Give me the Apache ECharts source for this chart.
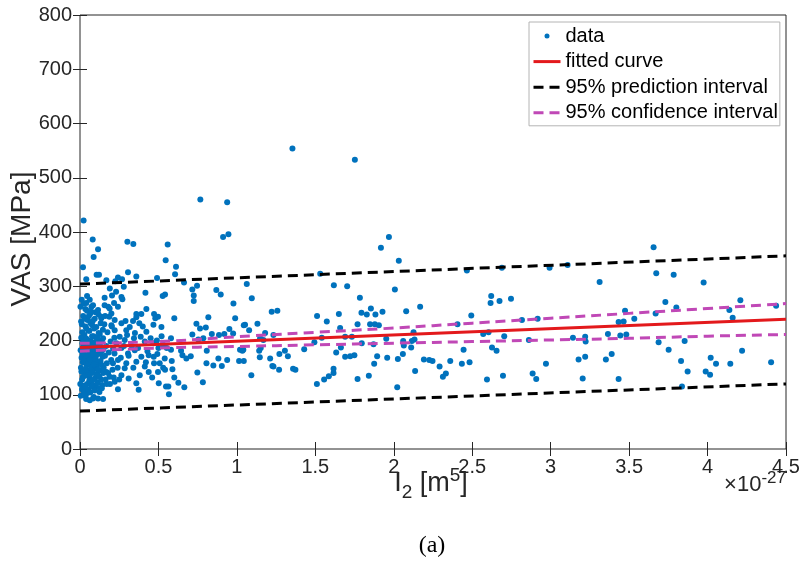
<!DOCTYPE html>
<html>
<head>
<meta charset="utf-8">
<script src="https://cdn.jsdelivr.net/npm/echarts@6/dist/echarts.min.js"></script>
<style>
  html, body { margin: 0; padding: 0; background: #fff; }
  #chart { width: 804px; height: 573px; }
</style>
</head>
<body>
<div id="chart"></div>
<script>
// scatter points [I2 (x1e-27), VAS]
var ptsCore = [
  [0.004,182],[0.006,150],[0.008,205],[0.01,168],[0.012,230],[0.014,128],[0.016,195],[0.018,160],[0.02,245],[0.022,112],
  [0.024,178],[0.026,142],[0.028,210],[0.03,188],[0.032,135],[0.034,258],[0.036,170],[0.038,100],[0.04,222],[0.042,155],
  [0.044,192],[0.046,120],[0.048,238],[0.05,165],[0.052,145],[0.054,200],[0.056,108],[0.058,176],[0.06,218],[0.062,132],
  [0.064,186],[0.066,250],[0.068,158],[0.07,125],[0.072,198],[0.074,172],[0.076,140],[0.078,228],[0.08,118],[0.082,190],
  [0.084,162],[0.086,208],[0.088,96],[0.09,180],[0.092,148],[0.094,240],[0.096,130],[0.098,195],[0.1,168],[0.102,115],
  [0.104,225],[0.106,152],[0.108,185],[0.11,138],[0.112,205],[0.114,122],[0.116,175],[0.118,248],[0.12,160],[0.122,192],
  [0.124,105],[0.126,212],[0.128,145],[0.13,178],[0.132,232],[0.134,128],[0.136,188],[0.138,155],[0.14,200],[0.142,118],
  [0.144,170],[0.146,220],[0.148,140],[0.15,185],
  [0.002,120],[0.003,262],[0.005,98],[0.007,235],[0.009,143],[0.011,275],[0.013,110],[0.015,215],[0.017,175],[0.019,133],
  [0.021,198],[0.023,268],[0.025,105],[0.027,162],[0.029,240],[0.031,117],[0.033,185],[0.035,226],[0.037,147],[0.039,92],
  [0.041,203],[0.043,172],[0.045,255],[0.047,136],[0.049,188],[0.051,110],[0.053,218],[0.055,158],[0.057,245],[0.059,126],
  [0.061,196],[0.063,165],[0.065,104],[0.067,232],[0.069,180],[0.071,150],[0.073,262],[0.075,115],[0.077,208],[0.079,142],
  [0.081,236],[0.083,174],[0.085,127],[0.087,193],[0.089,156],[0.091,222],[0.093,108],[0.095,184],[0.097,166],[0.099,252],
  [0.103,138],[0.107,200],[0.111,176],[0.115,146],[0.119,214],[0.123,134],[0.127,196],[0.131,162],[0.135,244],[0.139,112],
  [0.143,182],[0.147,204],[0.151,150],[0.155,230],[0.159,172],[0.163,128],[0.167,190],[0.171,158],[0.175,215],[0.179,140],
  [0.183,178],[0.187,244],[0.191,120],[0.195,198],[0.199,164],[0.203,226],[0.207,146],[0.211,185],[0.215,132],[0.219,205]
];

var ptsInner = [
  [0.423,258],[0.391,249],[0.359,249],[0.359,243],[0.338,236],[0.472,249],[0.48,241],[0.497,244],[0.468,229],[0.317,225],
  [0.295,219],[0.378,232],[0.423,216],[0.519,225],[0.413,198],[0.387,207],[0.344,204],[0.468,195],[0.529,192],[0.349,182],
  [0.306,176],[0.391,170],[0.438,173],[0.493,175],[0.54,167],[0.359,161],[0.295,158],[0.413,152],[0.472,158],[0.508,158],
  [0.438,142],[0.381,136],[0.497,142],[0.359,121],[0.374,109],[0.502,121],[0.548,115],[0.147,92],[0.126,112],[0.03,99],
  [0.062,90],[0.083,93],[0.115,93],[0.242,110],[0.221,124],[0.264,136],[0.285,149],[0.189,133],[0.168,142],[0.242,164],
  [0.21,158],[0.264,186],[0.232,195],[0.285,201],[0.253,207],[0.221,219],[0.264,232],[0.221,238],[0.2,250],[0.189,259],
  [0.242,262],[0.217,269],[0.157,265],[0.115,256],[0.083,265],[0.04,269],[0.062,275],[0.072,253],[0.136,241],
  [0.16,245],[0.18,262],[0.2,228],[0.22,176],[0.24,150],[0.26,168],[0.28,190],[0.3,210],[0.17,120],[0.25,128],
  [0.29,236],[0.31,172],[0.33,190],[0.35,214],[0.37,186],[0.4,226],[0.43,180],[0.45,204],[0.47,170],[0.5,186],
  [0.52,208],[0.31,130],[0.34,150],[0.42,160],[0.46,132],[0.49,200],[0.53,150],[0.27,276],[0.23,290],[0.19,296]
];

var ptsHighLeft = [
  [0.023,421],[0.081,386],[0.115,368],[0.087,354],[0.302,382],[0.34,378],[0.019,335],[0.04,313],[0.106,321],[0.121,321],
  [0.242,316],[0.306,326],[0.359,318],[0.268,313],[0.279,299],[0.168,311],[0.225,309],[0.491,315],[0.045,282],[0.157,279],
  [0.204,283],[0.264,280],[0.417,288],[0.527,282]
];

var ptsMid = [
  [0.767,460],[0.938,455],[0.912,391],[0.946,396],[0.559,377],[0.546,348],[0.612,336],[0.606,322],[0.663,307],[0.716,294],
  [0.746,301],[0.725,283],[0.725,273],[0.869,293],[0.897,285],[1.063,304],[1.095,278],[0.978,268],[0.542,285],[0.601,241],
  [0.818,243],[0.989,241],[0.742,231],[0.765,222],[0.802,224],[0.716,211],[0.84,212],[0.886,210],[0.92,212],[0.952,221],
  [0.976,213],[1.044,228],[1.052,229],[1.078,219],[1.131,231],[1.18,214],[1.222,253],[0.58,204],[0.786,204],[0.754,202],
  [0.553,186],[0.58,183],[0.644,181],[0.653,173],[0.678,167],[0.706,171],[0.808,181],[0.806,158],[0.85,154],[0.882,167],
  [0.904,153],[0.938,164],[1.014,162],[1.044,162],[1.035,181],[1.142,181],[1.146,169],[1.212,167],[1.226,153],[0.585,162],
  [0.589,147],[0.601,132],[0.627,122],[0.665,114],[0.748,141],[0.783,123],[0.542,146],[0.563,115],[0.567,101],[1.092,136],
  [1.148,204],[1.169,201],[1.02,183],[1.041,183],[1.152,186]
];

var ptsFar1 = [
  [1.354,554],[1.752,533],[1.969,391],[1.918,371],[2.032,347],[1.531,323],[1.618,302],[1.703,300],[2.007,294],[1.784,279],
  [1.258,255],[1.65,249],[1.794,251],[1.828,248],[1.854,259],[1.883,248],[1.928,253],[1.511,245],[1.573,235],[1.769,230],
  [1.849,230],[1.879,230],[1.905,228],[1.658,223],[1.69,207],[1.733,207],[1.233,210],[1.541,205],[1.494,197],[1.429,184],
  [1.952,203],[1.796,195],[1.871,193],[1.663,187],[1.633,178],[1.271,175],[1.306,181],[1.325,171],[1.69,170],[1.722,171],
  [1.749,173],[1.894,171],[1.958,168],[1.233,152],[1.269,146],[1.358,148],[1.373,146],[1.875,157],[1.616,148],[1.616,140],
  [1.586,134],[1.556,128],[1.51,120],[1.769,129],[1.841,135],[2.022,114]
];

var ptsFar2 = [
  [2.466,329],[2.689,334],[2.621,282],[2.617,269],[2.674,273],[2.747,277],[2.079,254],[2.168,262],[2.494,246],[2.406,230],
  [2.126,215],[2.06,199],[2.064,191],[2.115,199],[2.132,202],[2.111,187],[2.57,212],[2.604,215],[2.626,187],[2.655,181],
  [2.704,208],[2.445,183],[2.026,166],[2.058,175],[2.192,165],[2.226,164],[2.247,162],[2.36,162],[2.434,157],[2.483,160],
  [2.292,152],[2.136,144],[2.332,139],[2.313,133],[2.594,128],[2.696,135]
];

var ptsFar3 = [
  [2.993,334],[3.108,339],[3.312,308],[2.817,238],[2.917,240],[3.474,255],[3.433,234],[3.465,235],[3.533,240],[2.861,201],
  [3.142,205],[3.22,207],[3.223,198],[3.365,212],[3.444,209],[3.482,211],[2.97,157],[3.178,165],[3.22,170],[3.352,165],
  [3.389,175],[2.885,139],[2.908,129],[3.204,130],[3.433,129]
];

var ptsFar4 = [
  [3.656,372],[3.673,324],[3.784,321],[3.975,307],[3.669,250],[3.731,271],[3.801,261],[4.139,256],[4.16,242],[4.209,274],
  [4.437,264],[3.688,197],[3.752,183],[3.854,199],[4.22,181],[3.831,162],[3.873,143],[4.02,168],[4.054,157],[3.988,143],
  [4.016,137],[4.145,157],[4.405,160],[3.837,115]
];

// fitted line and interval bounds
var lineX = [0, 4.5];
var fitY = [187, 239];
var predUpper = [304, 356];
var predLower = [70, 120];

var ciX = [0, 0.5, 1, 1.5, 2, 2.5, 3, 3.5, 4, 4.5];
var ciUpper = [195, 198, 207, 215, 223, 232, 241, 250, 259, 268];
var ciLower = [180, 186, 189, 192, 195, 198, 201, 204, 208, 211];

var xTicks = { min: 0, max: 4.5, step: 0.5 };
var yTicks = { min: 0, max: 800, step: 100 };

function pairs(xs, ys) {
  return xs.map(function (x, i) { return [x, ys[i]]; });
}

var allPts = [].concat(ptsCore, ptsInner, ptsHighLeft, ptsMid, ptsFar1, ptsFar2, ptsFar3, ptsFar4);

var axisColor = '#262626';
var font = 'Liberation Sans, Arial, sans-serif';

var chart = echarts.init(document.getElementById('chart'));

function tickAxis(pos, t, showLabel) {
  return {
    type: 'value', position: pos, min: t.min, max: t.max, interval: t.step,
    axisLine: { show: false },
    axisTick: { show: true, inside: true, length: 7, lineStyle: { color: axisColor, width: 1 } },
    axisLabel: { show: showLabel, fontSize: 20, color: axisColor, fontFamily: font, margin: 8 },
    splitLine: { show: false }
  };
}

var blue = '#0072BD';
var red = '#e3191c';
var magenta = '#c048b6';
var noDot = { opacity: 0 };

chart.setOption({
  animation: false,
  backgroundColor: '#fff',
  grid: { left: 80, right: 18, top: 15, bottom: 124, show: true, borderColor: axisColor, borderWidth: 1 },
  xAxis: [tickAxis('bottom', xTicks, true), tickAxis('top', xTicks, false)],
  yAxis: [tickAxis('left', yTicks, true), tickAxis('right', yTicks, false)],
  legend: {
    orient: 'vertical', left: 529, top: 22,
    backgroundColor: '#fff', borderColor: '#b4b4b4', borderWidth: 1,
    padding: [3, 2, 2, 3], itemWidth: 27, itemHeight: 5, itemGap: 3.6,
    textStyle: { fontSize: 20, color: '#000', fontFamily: font, lineHeight: 22 },
    lineStyle: { width: 3 },
    data: [
      { name: 'data', icon: 'circle' },
      { name: 'fitted curve', itemStyle: noDot },
      { name: '95% prediction interval', itemStyle: noDot },
      { name: '95% confidence interval', itemStyle: noDot }
    ]
  },
  series: [
    { name: 'data', type: 'scatter', data: allPts, symbolSize: 6,
      itemStyle: { color: blue, opacity: 1 }, silent: true },
    { name: 'fitted curve', type: 'line', data: pairs(lineX, fitY), symbol: 'none',
      lineStyle: { color: red, width: 3 }, itemStyle: { color: red }, silent: true },
    { name: '95% prediction interval', type: 'line', data: pairs(lineX, predUpper), symbol: 'none',
      lineStyle: { color: '#000', width: 3, type: [10, 6] }, itemStyle: { color: '#000' }, silent: true },
    { name: '95% prediction interval', type: 'line', data: pairs(lineX, predLower), symbol: 'none',
      lineStyle: { color: '#000', width: 3, type: [10, 6] }, itemStyle: { color: '#000' }, silent: true },
    { name: '95% confidence interval', type: 'line', data: pairs(ciX, ciUpper), symbol: 'none', smooth: true,
      lineStyle: { color: magenta, width: 3, type: [10, 6] }, itemStyle: { color: magenta }, silent: true },
    { name: '95% confidence interval', type: 'line', data: pairs(ciX, ciLower), symbol: 'none', smooth: true,
      lineStyle: { color: magenta, width: 3, type: [10, 6] }, itemStyle: { color: magenta }, silent: true }
  ],
  graphic: [
    { type: 'text', x: 22, y: 239, rotation: Math.PI / 2,
      style: { text: 'VAS [MPa]', fontSize: 28, fontFamily: font, fill: axisColor, align: 'center', verticalAlign: 'middle' } },
    { type: 'text', x: 431, y: 484,
      style: {
        text: '{n|I}{sb|2}{n| [m}{sp|5}{n|]}', align: 'center', verticalAlign: 'middle',
        rich: {
          n: { fontSize: 27, lineHeight: 36, fontFamily: font, fill: axisColor },
          sb: { fontSize: 19, lineHeight: 22, verticalAlign: 'bottom', fontFamily: font, fill: axisColor },
          sp: { fontSize: 19, lineHeight: 22, verticalAlign: 'top', fontFamily: font, fill: axisColor }
        }
      } },
    { type: 'text', x: 786, y: 485,
      style: {
        text: '{n|\u00d710}{sp|-27}', align: 'right', verticalAlign: 'middle',
        rich: {
          n: { fontSize: 22, lineHeight: 30, fontFamily: font, fill: axisColor },
          sp: { fontSize: 17, lineHeight: 18, verticalAlign: 'top', fontFamily: font, fill: axisColor }
        }
      } },
    { type: 'text', x: 432, y: 546,
      style: { text: '(a)', fontSize: 24, fontFamily: 'Liberation Serif, Times New Roman, serif', fill: '#000',
        align: 'center', verticalAlign: 'middle' } }
  ]
});
</script>
</body>
</html>
